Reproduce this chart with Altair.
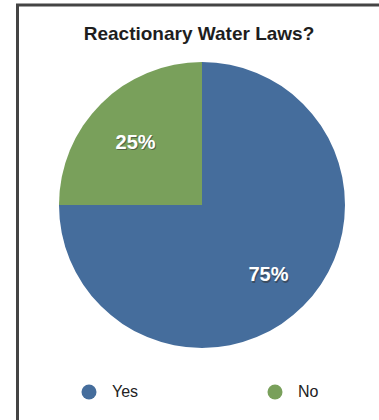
import altair as alt
import pandas as pd

# Survey answers and their shares of the pie
answers = ["Yes", "No"]
shares = [75, 25]
labels = ["75%", "25%"]
colors = ["#456d9c", "#79a05b"]
title_text = "Reactionary Water Laws?"

df = pd.DataFrame({
    "answer": answers,
    "share": shares,
    "label": labels,
    "idx": list(range(len(answers))),
})

W, H = 379, 420
CX, CY, R = 202, 205, 143
FONT = "Liberation Sans"

base = alt.Chart(df).encode(
    theta=alt.Theta("share:Q", stack=True),
    order=alt.Order("idx:Q"),
)

pie = base.mark_arc(radius=R, stroke=None).encode(
    x=alt.value(CX),
    y=alt.value(CY),
    color=alt.Color(
        "answer:N",
        scale=alt.Scale(domain=answers, range=colors),
        sort=answers,
        legend=alt.Legend(
            title=None,
            orient="none",
            direction="horizontal",
            legendX=81,
            legendY=384,
            symbolType="circle",
            symbolSize=225,
            symbolStrokeWidth=0,
            symbolOpacity=1,
            labelFont=FONT,
            labelFontSize=16,
            labelColor="#222222",
            labelOffset=15,
            columnPadding=128,
            padding=0,
        ),
    ),
)

# slice labels: a soft dark copy underneath gives the white text its shadow
label_shadow = base.mark_text(
    radius=94, font=FONT, fontSize=20, fontWeight="bold",
    color="#333333", opacity=0.55, dx=1, dy=5.5,
).encode(text="label:N", x=alt.value(CX), y=alt.value(CY))

label_text = base.mark_text(
    radius=94, font=FONT, fontSize=20, fontWeight="bold", color="white", dy=4,
).encode(text="label:N", x=alt.value(CX), y=alt.value(CY))

title = alt.Chart(pd.DataFrame({"t": [title_text]})).mark_text(
    font=FONT, fontSize=19, fontWeight="bold", color="#1e1e1e",
    align="center", baseline="alphabetic",
).encode(text="t:N", x=alt.value(199), y=alt.value(40))

# frame around the chart
frame_top = alt.Chart(pd.DataFrame({"a": [0]})).mark_rule(
    color="#444444", strokeWidth=3
).encode(x=alt.value(16), x2=alt.value(W), y=alt.value(5))
frame_left = alt.Chart(pd.DataFrame({"a": [0]})).mark_rule(
    color="#444444", strokeWidth=3
).encode(x=alt.value(17.5), y=alt.value(4), y2=alt.value(H))

chart = alt.layer(
    pie, label_shadow, label_text, title, frame_top, frame_left
).properties(
    width=W, height=H, padding=0, autosize=alt.AutoSizeParams(type="none"),
    background="white",
).configure_view(stroke=None)

chart.save("out.html", embed_options={"renderer": "svg", "actions": False})
